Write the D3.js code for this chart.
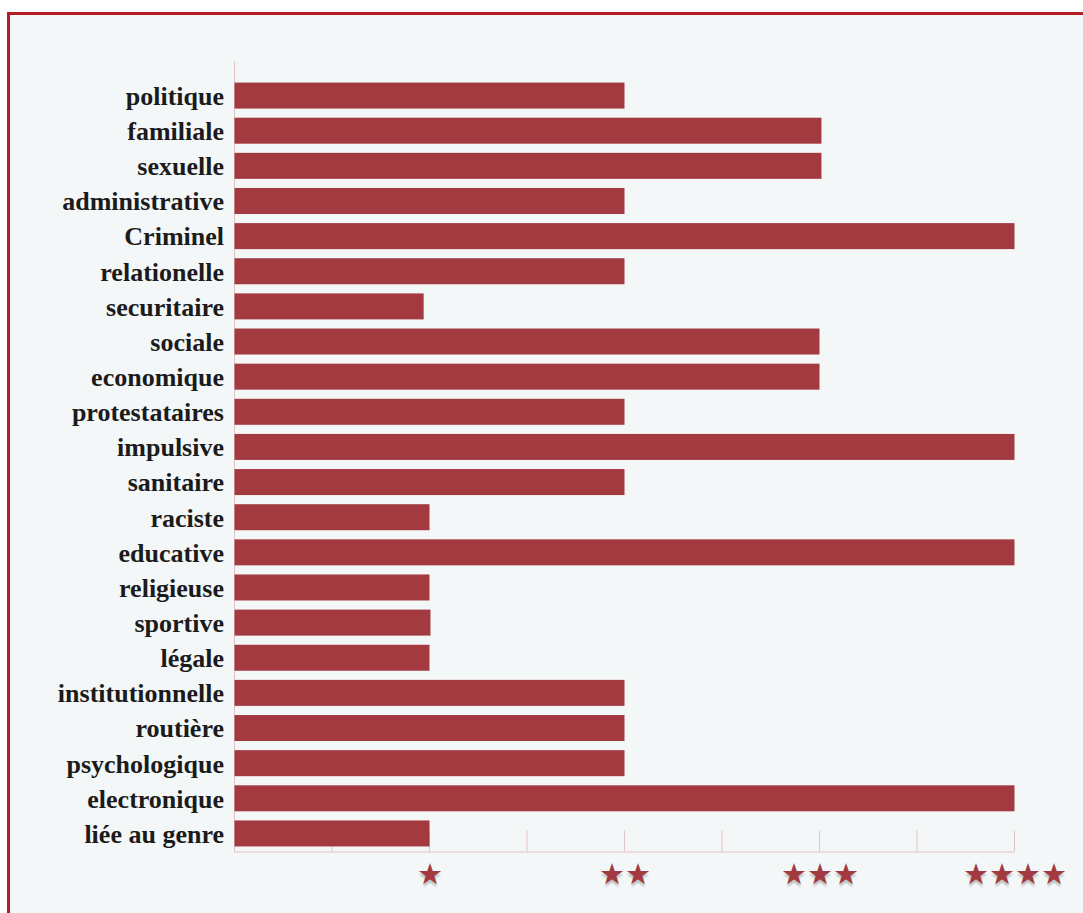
<!DOCTYPE html>
<html>
<head>
<meta charset="utf-8">
<script src="https://cdn.jsdelivr.net/npm/d3@7"></script>
<style>
  html, body { margin: 0; padding: 0; background: #ffffff; }
  svg { display: block; }
  .ylab { font-family: "Liberation Serif", "DejaVu Serif", serif; font-weight: bold; font-size: 26px; fill: #1b1b1b; }
  .star { font-family: "DejaVu Sans", sans-serif; font-size: 29px; fill: #a33a40; text-shadow: 0 3px 2px rgba(0,0,0,0.22); }
</style>
</head>
<body>
<svg id="chart" width="1083" height="913"></svg>
<script>
const categories = ["politique","familiale","sexuelle","administrative","Criminel","relationelle","securitaire","sociale","economique","protestataires","impulsive","sanitaire","raciste","educative","religieuse","sportive","légale","institutionnelle","routière","psychologique","electronique","liée au genre"];
const values = [2, 3.01, 3.01, 2, 4, 2, 0.97, 3, 3, 2, 4, 2, 1, 4, 1, 1.005, 1, 2, 2, 2, 4, 1];
const tickValues = [0, 0.5, 1, 1.5, 2, 2.5, 3, 3.5, 4];
const tickLabels = {1: "★", 2: "★★", 3: "★★★", 4: "★★★★"};

const svg = d3.select("#chart");

// frame
svg.append("rect")
  .attr("x", 8.5).attr("y", 13.5)
  .attr("width", 1200).attr("height", 1000)
  .attr("fill", "#f4f7f8")
  .attr("stroke", "#b51c22")
  .attr("stroke-width", 3);

const x = d3.scaleLinear().domain([0, 4]).range([234, 1014]);
const y = d3.scaleBand().domain(categories).range([78, 851]).paddingInner(0.26).paddingOuter(0.13);
const axisColor = "#e2c3c5";

// left axis line
svg.append("line")
  .attr("x1", 234.5).attr("x2", 234.5)
  .attr("y1", 61).attr("y2", 852)
  .attr("stroke", axisColor).attr("stroke-width", 1);

// bottom axis
const gx = svg.append("g").attr("transform", "translate(0,851.5)")
  .call(d3.axisBottom(x).tickValues(tickValues).tickSizeInner(-21).tickSizeOuter(0).tickFormat(""));
gx.select(".domain").attr("stroke", axisColor);
gx.selectAll(".tick line").attr("stroke", axisColor);

// star labels
svg.append("g").selectAll("text")
  .data(tickValues.filter(v => tickLabels[v]))
  .join("text")
  .attr("class", "star")
  .attr("x", d => x(d) + 1)
  .attr("y", 884)
  .attr("text-anchor", "middle")
  .text(d => tickLabels[d]);

// bars
svg.append("g").selectAll("rect")
  .data(categories)
  .join("rect")
  .attr("x", x(0) + 0.5)
  .attr("y", d => y(d))
  .attr("width", (d, i) => x(values[i]) - x(0))
  .attr("height", y.bandwidth())
  .attr("fill", "#a33a40");

// labels
svg.append("g").selectAll("text")
  .data(categories)
  .join("text")
  .attr("class", "ylab")
  .attr("x", 224)
  .attr("y", d => y(d) + y.bandwidth() / 2)
  .attr("dy", "0.36em")
  .attr("text-anchor", "end")
  .text(d => d);
</script>
</body>
</html>
